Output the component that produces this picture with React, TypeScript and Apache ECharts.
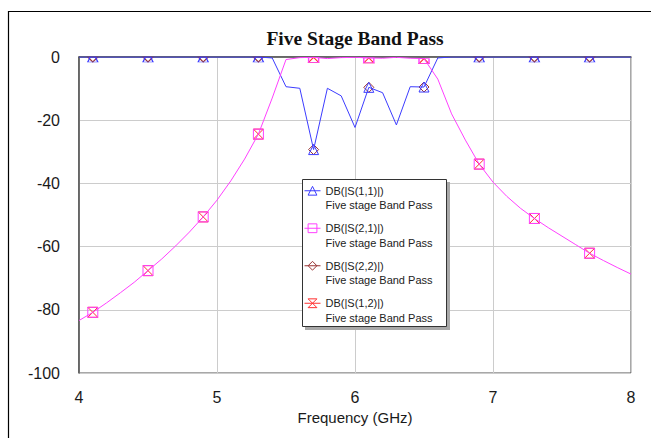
import React, { useEffect, useRef } from "react";
import * as echarts from "echarts";

const FREQ_GHZ = [
  4.0, 4.1, 4.2, 4.3, 4.4, 4.5, 4.6, 4.7, 4.8, 4.9,
  5.0, 5.1, 5.2, 5.3, 5.4, 5.5, 5.6, 5.7, 5.8, 5.9,
  6.0, 6.1, 6.2, 6.3, 6.4, 6.5, 6.6, 6.7, 6.8, 6.9,
  7.0, 7.1, 7.2, 7.3, 7.4, 7.5, 7.6, 7.7, 7.8, 7.9, 8.0,
];

const S11_DB = [
  0, 0, 0, 0, 0, 0, 0, 0, 0, 0,
  0, 0, 0, 0, -0.3, -9.4, -9.9, -29.3, -9.9, -12.3,
  -22.3, -9.6, -11.3, -21.5, -9.4, -9.5, -0.3, 0, 0, 0,
  0, 0, 0, 0, 0, 0, 0, 0, 0, 0, 0,
];

const S21_DB = [
  -83.4, -80.8, -77.8, -74.6, -71.3, -67.6, -63.9, -59.8, -55.4, -50.6,
  -45.3, -39.2, -32.3, -24.4, -13.0, -0.8, -0.2, -0.1, -0.5, -0.2,
  -0.1, -0.3, -0.4, -0.1, -0.4, -0.5, -7.0, -18.0, -26.3, -33.9,
  -39.6, -44.1, -47.9, -51.1, -54.0, -56.7, -59.4, -62.1, -64.4, -66.6, -68.7,
];

const S22_DB = [
  0, 0, 0, 0, 0, 0, 0, 0, 0, 0,
  0, 0, 0, 0, -0.3, -9.4, -9.9, -29.3, -9.9, -12.3,
  -22.3, -9.6, -11.3, -21.5, -9.4, -9.5, -0.3, 0, 0, 0,
  0, 0, 0, 0, 0, 0, 0, 0, 0, 0, 0,
];

const S12_DB = [
  -83.4, -80.8, -77.8, -74.6, -71.3, -67.6, -63.9, -59.8, -55.4, -50.6,
  -45.3, -39.2, -32.3, -24.4, -13.0, -0.8, -0.2, -0.1, -0.5, -0.2,
  -0.1, -0.3, -0.4, -0.1, -0.4, -0.5, -7.0, -18.0, -26.3, -33.9,
  -39.6, -44.1, -47.9, -51.1, -54.0, -56.7, -59.4, -62.1, -64.4, -66.6, -68.7,
];

const MARKER_FREQS = [4.1, 4.5, 4.9, 5.3, 5.7, 6.1, 6.5, 6.9, 7.3, 7.7];

const SERIES_NAMES = ["DB(|S(1,1)|)", "DB(|S(2,1)|)", "DB(|S(2,2)|)", "DB(|S(1,2)|)"];
const SUBTITLE = "Five stage Band Pass";
const TITLE = "Five Stage Band Pass";
const X_NAME = "Frequency (GHz)";

const C_S11 = "#3c3cff";
const C_S21 = "#ff40ff";
const C_S22 = "#993333";
const C_S12 = "#ff3030";

const HOURGLASS = "path://M0,0 L10,0 L0,10 L10,10 Z";
const HALF_TRI = "path://M2.5,0 L7.5,0 L10,5 L0,5 Z";
const HALF_RECT = "path://M0,0 L10,0 L10,5 L0,5 Z";
const HALF_DIAMOND = "path://M0,0 L5,5 L10,0 Z";
const HALF_HOURGLASS = "path://M5,0 L10,5 L0,5 Z";

const isMarker = (f: number) => MARKER_FREQS.some((m) => Math.abs(m - f) < 1e-6);

function buildSeries(
  name: string,
  values: number[],
  color: string,
  symbol: string,
  halfSymbol: string,
  z: number,
  lineOpacity: number
) {
  return {
    type: "line",
    name,
    z,
    silent: true,
    data: FREQ_GHZ.map((f, i) => {
      const v = values[i];
      const item: any = { value: [f, v] };
      if (!isMarker(f)) {
        item.symbol = "none";
      } else if (v > -1.5) {
        item.symbol = halfSymbol;
        item.symbolSize = [10, 5];
        item.symbolOffset = [0, 2.5];
      }
      return item;
    }),
    symbol,
    symbolSize: 10,
    showSymbol: true,
    showAllSymbol: true,
    lineStyle: { color, width: 1, opacity: lineOpacity },
    itemStyle: { color: "rgba(255,255,255,0)", borderColor: color, borderWidth: 1 },
    emphasis: { disabled: true },
  };
}

export default function App() {
  const ref = useRef<HTMLDivElement>(null);

  useEffect(() => {
    if (!ref.current) return;
    const chart = echarts.init(ref.current, undefined, { renderer: "svg" });
    const font = "Liberation Sans, Arial, sans-serif";
    const legendItem = (name: string, color: string) => ({
      name,
      itemStyle: { color: "rgba(255,255,255,0)", borderColor: color, borderWidth: 1, opacity: 1 },
      lineStyle: { color, width: 1, opacity: 1 },
    });
    chart.setOption({
      animation: false,
      backgroundColor: "#ffffff",
      title: {
        text: TITLE,
        left: 355,
        top: 28,
        padding: 0,
        textAlign: "center",
        textStyle: {
          fontFamily: "Liberation Serif, Times New Roman, serif",
          fontWeight: "bold",
          fontSize: 19.5,
          color: "#111111",
        },
      },
      grid: {
        left: 79,
        right: 20,
        top: 57,
        bottom: 65,
        show: true,
        borderColor: "#505050",
        borderWidth: 1,
        backgroundColor: "rgba(0,0,0,0)",
      },
      xAxis: {
        type: "value",
        min: 4,
        max: 8,
        interval: 1,
        name: X_NAME,
        nameLocation: "middle",
        nameGap: 37,
        nameTextStyle: { fontFamily: font, fontSize: 15, color: "#1a1a1a" },
        axisLine: { show: true, lineStyle: { color: "#505050", width: 1.5 } },
        axisTick: { show: false },
        axisLabel: { margin: 16, fontFamily: font, fontSize: 16, color: "#1a1a1a" },
        splitLine: { show: true, lineStyle: { color: "#cccccc", width: 1 } },
      },
      yAxis: {
        type: "value",
        min: -100,
        max: 0,
        interval: 20,
        axisLine: { show: true, lineStyle: { color: "#505050", width: 1.5 } },
        axisTick: { show: false },
        axisLabel: { margin: 19, fontFamily: font, fontSize: 16, color: "#1a1a1a" },
        splitLine: { show: true, lineStyle: { color: "#cccccc", width: 1 } },
      },
      legend: {
        orient: "vertical",
        left: 304,
        top: 169,
        padding: 0,
        itemGap: -6,
        itemWidth: 16,
        itemHeight: 11,
        z: 6,
        selectedMode: false,
        formatter: (name: string) => "\u00a0\n" + name + "\n" + SUBTITLE,
        textStyle: { fontFamily: font, fontSize: 11, color: "#222222", lineHeight: 14.5 },
        data: [
          legendItem(SERIES_NAMES[0], C_S11),
          legendItem(SERIES_NAMES[1], C_S21),
          legendItem(SERIES_NAMES[2], C_S22),
          legendItem(SERIES_NAMES[3], C_S12),
        ],
      },
      graphic: [
        {
          type: "rect",
          z: 0,
          silent: true,
          shape: { x: 8.5, y: 11.5, width: 700, height: 500 },
          style: { fill: "none", stroke: "#000000", lineWidth: 1.2 },
        },
        {
          type: "rect",
          z: 4,
          silent: true,
          shape: { x: 305, y: 182, width: 145, height: 148 },
          style: { fill: "#a8a8a8", stroke: "none" },
        },
        {
          type: "rect",
          z: 5,
          silent: true,
          shape: { x: 302.5, y: 179.5, width: 144, height: 147 },
          style: { fill: "#ffffff", stroke: "#333333", lineWidth: 1 },
        },
      ],
      series: [
        buildSeries(SERIES_NAMES[2], S22_DB, C_S22, "diamond", HALF_DIAMOND, 2, 0),
        buildSeries(SERIES_NAMES[3], S12_DB, C_S12, HOURGLASS, HALF_HOURGLASS, 2, 0),
        buildSeries(SERIES_NAMES[0], S11_DB, C_S11, "triangle", HALF_TRI, 3, 1),
        buildSeries(SERIES_NAMES[1], S21_DB, C_S21, "rect", HALF_RECT, 3, 1),
      ],
    });
    return () => chart.dispose();
  }, []);

  return (
    <div
      ref={ref}
      style={{ position: "absolute", left: 0, top: 0, width: 651, height: 438 }}
    />
  );
}
